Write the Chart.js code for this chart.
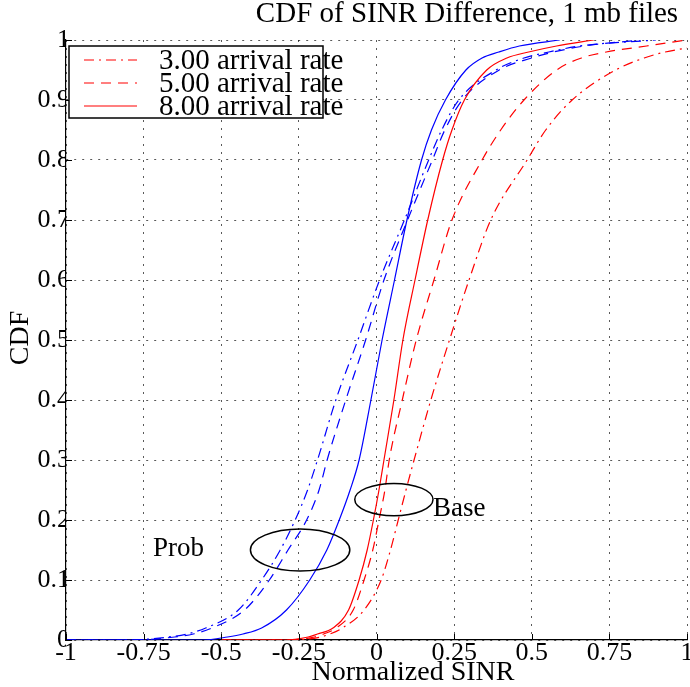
<!DOCTYPE html>
<html>
<head>
<meta charset="utf-8">
<title>CDF of SINR Difference</title>
<script src="https://cdn.jsdelivr.net/npm/chart.js@4.4.1/dist/chart.umd.min.js"></script>
<style>
  html, body { margin: 0; padding: 0; background: #fff; }
  #wrap { width: 690px; height: 687px; }
</style>
</head>
<body>
<div id="wrap"><canvas id="sinrChart" width="690" height="687"></canvas></div>
<script>
// CDF levels shared by all curves (first two rows: start of the flat part, point where it leaves zero)
const cdfLevels = [0, 0, 0.005, 0.01, 0.02, 0.05, 0.1, 0.15, 0.2, 0.25, 0.3, 0.4, 0.5, 0.6, 0.7, 0.8, 0.85, 0.9, 0.95, 0.97, 0.98, 0.99, 1];

// normalized SINR at each level, Prob scheme
const prob300 = [-1, -0.8, -0.67, -0.61, -0.55, -0.445, -0.37, -0.31, -0.262, -0.222, -0.19, -0.131, -0.06, 0.01, 0.09, 0.168, 0.21, 0.265, 0.385, 0.475, 0.555, 0.655, 0.9];
const prob500 = [-1, -0.78, -0.65, -0.59, -0.53, -0.425, -0.345, -0.285, -0.225, -0.185, -0.159, -0.099, -0.035, 0.024, 0.1, 0.18, 0.22, 0.276, 0.395, 0.5, 0.57, 0.67, 0.85];
const prob800 = [-1, -0.56, -0.48, -0.43, -0.37, -0.29, -0.215, -0.16, -0.12, -0.085, -0.056, -0.018, 0.018, 0.058, 0.098, 0.145, 0.177, 0.222, 0.288, 0.34, 0.394, 0.46, 0.59];

// normalized SINR at each level, Base scheme
const base300 = [-0.5, -0.27, -0.18, -0.15, -0.11, -0.04, 0.015, 0.045, 0.07, 0.095, 0.121, 0.175, 0.235, 0.298, 0.368, 0.485, 0.545, 0.63, 0.77, 0.862, 0.93, 1.04, 1.15];
const base500 = [-0.5, -0.28, -0.2, -0.17, -0.13, -0.075, -0.04, -0.012, 0.008, 0.027, 0.041, 0.083, 0.128, 0.185, 0.243, 0.34, 0.4, 0.475, 0.58, 0.66, 0.74, 0.87, 1.0];
const base800 = [-0.5, -0.3, -0.22, -0.19, -0.14, -0.09, -0.056, -0.03, -0.01, 0.008, 0.024, 0.056, 0.085, 0.124, 0.165, 0.213, 0.243, 0.283, 0.355, 0.42, 0.49, 0.58, 0.7];

const rateLabels = ['3.00 arrival rate', '5.00 arrival rate', '8.00 arrival rate'];
const xTicks = [-1, -0.75, -0.5, -0.25, 0, 0.25, 0.5, 0.75, 1];
const yTicks = [0, 0.1, 0.2, 0.3, 0.4, 0.5, 0.6, 0.7, 0.8, 0.9, 1];

const FONT = '"Liberation Serif", "Times New Roman", serif';
const dashStyles = [[10, 5, 2, 5], [10, 7], []];

function curve(xs) {
  return cdfLevels.map(function (p, i) { return { x: xs[i], y: p }; });
}

function makeSet(label, xs, color, dash, order) {
  return {
    label: label,
    data: curve(xs),
    borderColor: color,
    borderWidth: 1.2,
    borderDash: dash,
    pointRadius: 0,
    fill: false,
    cubicInterpolationMode: 'monotone',
    order: order
  };
}

// ellipses grouping the two families, in data units
const groupMarks = [
  { text: 'Prob', cx: -0.246, cy: 0.15, rx: 0.16, ry: 0.035, tx: -0.72, ty: 0.152 },
  { text: 'Base', cx: 0.056, cy: 0.234, rx: 0.126, ry: 0.027, tx: 0.182, ty: 0.218 }
];

const decorations = {
  id: 'decorations',
  afterDatasetsDraw: function (chart) {
    const ctx = chart.ctx, xs = chart.scales.x, ys = chart.scales.y, area = chart.chartArea;
    ctx.save();

    // inward tick marks
    ctx.strokeStyle = '#000';
    ctx.lineWidth = 1;
    ctx.beginPath();
    xTicks.forEach(function (v) {
      const px = Math.round(xs.getPixelForValue(v)) + 0.5;
      ctx.moveTo(px, area.bottom);
      ctx.lineTo(px, area.bottom - 6);
    });
    yTicks.forEach(function (v) {
      const py = Math.round(ys.getPixelForValue(v)) + 0.5;
      ctx.moveTo(area.left, py);
      ctx.lineTo(area.left + 6, py);
    });
    ctx.stroke();

    // Prob / Base ellipses and their labels
    ctx.lineWidth = 1.5;
    ctx.font = '27px ' + FONT;
    ctx.fillStyle = '#000';
    ctx.textBaseline = 'middle';
    ctx.textAlign = 'left';
    groupMarks.forEach(function (g) {
      const cx = xs.getPixelForValue(g.cx), cy = ys.getPixelForValue(g.cy);
      const rx = Math.abs(xs.getPixelForValue(g.cx + g.rx) - cx);
      const ry = Math.abs(ys.getPixelForValue(g.cy + g.ry) - cy);
      ctx.beginPath();
      ctx.ellipse(cx, cy, rx, ry, 0, 0, Math.PI * 2);
      ctx.stroke();
      ctx.fillText(g.text, xs.getPixelForValue(g.tx), ys.getPixelForValue(g.ty));
    });
    ctx.restore();
  },
  afterDraw: function (chart) {
    const ctx = chart.ctx, area = chart.chartArea;
    ctx.save();
    ctx.fillStyle = '#000';

    // title
    ctx.font = '29px ' + FONT;
    ctx.textAlign = 'center';
    ctx.textBaseline = 'alphabetic';
    ctx.fillText('CDF of SINR Difference, 1 mb files', 467, 22);

    // axis titles
    ctx.font = '28px ' + FONT;
    ctx.fillText('Normalized SINR', 413, 680);
    ctx.translate(28, 338);
    ctx.rotate(-Math.PI / 2);
    ctx.fillText('CDF', 0, 0);
    ctx.setTransform(1, 0, 0, 1, 0, 0);

    // legend (Base curves only)
    const bx = area.left + 3, by = area.top + 6;
    ctx.fillStyle = '#fff';
    ctx.fillRect(bx, by, 254, 72);
    ctx.strokeStyle = '#000';
    ctx.lineWidth = 1.5;
    ctx.strokeRect(bx, by, 254, 72);
    ctx.font = '29px ' + FONT;
    ctx.textAlign = 'left';
    ctx.textBaseline = 'middle';
    ctx.fillStyle = '#000';
    chart.data.datasets.filter(function (d) { return d.borderColor === '#ff0000'; }).forEach(function (d, i) {
      const rowY = by + 14 + i * 23;
      ctx.beginPath();
      ctx.setLineDash(d.borderDash);
      ctx.strokeStyle = d.borderColor;
      ctx.lineWidth = 1.2;
      ctx.moveTo(bx + 15, rowY);
      ctx.lineTo(bx + 68, rowY);
      ctx.stroke();
      ctx.setLineDash([]);
      ctx.fillText(d.label, bx + 90, rowY + 1);
    });
    ctx.restore();
  }
};

document.addEventListener('DOMContentLoaded', function () {
  const ctx = document.getElementById('sinrChart').getContext('2d');
  const sinrChart = new Chart(ctx, {
    type: 'line',
    data: {
      datasets: [
        makeSet('Prob ' + rateLabels[0], prob300, '#0000ff', dashStyles[0], 6),
        makeSet('Prob ' + rateLabels[1], prob500, '#0000ff', dashStyles[1], 5),
        makeSet('Prob ' + rateLabels[2], prob800, '#0000ff', dashStyles[2], 4),
        makeSet(rateLabels[0], base300, '#ff0000', dashStyles[0], 3),
        makeSet(rateLabels[1], base500, '#ff0000', dashStyles[1], 2),
        makeSet(rateLabels[2], base800, '#ff0000', dashStyles[2], 1)
      ]
    },
    options: {
      responsive: false,
      animation: false,
      layout: { padding: { top: 40, right: 3, bottom: 0, left: 0 } },
      plugins: {
        legend: { display: false },
        tooltip: { enabled: false }
      },
      scales: {
        x: {
          type: 'linear',
          min: -1,
          max: 1,
          afterBuildTicks: function (scale) {
            scale.ticks = xTicks.map(function (v) { return { value: v }; });
          },
          afterFit: function (scale) {
            scale.height = 47;
            scale.paddingLeft = 0;
            scale.paddingRight = 0;
          },
          grid: {
            color: 'rgba(0,0,0,0.65)',
            lineWidth: 1,
            drawTicks: false
          },
          border: { display: true, color: '#000', width: 1.2, dash: [2, 6] },
          ticks: {
            color: '#000',
            padding: -2,
            maxRotation: 0,
            autoSkip: false,
            font: { family: FONT, size: 26 },
            callback: function (v) { return String(v); }
          }
        },
        y: {
          type: 'linear',
          min: 0,
          max: 1,
          afterBuildTicks: function (scale) {
            scale.ticks = yTicks.map(function (v) { return { value: v }; });
          },
          afterFit: function (scale) {
            scale.width = 66;
            scale.paddingTop = 0;
            scale.paddingBottom = 0;
          },
          grid: {
            color: 'rgba(0,0,0,0.65)',
            lineWidth: 1,
            drawTicks: false
          },
          border: { display: true, color: '#000', width: 1.2, dash: [2, 6] },
          ticks: {
            color: '#000',
            padding: -4,
            autoSkip: false,
            font: { family: FONT, size: 26 },
            callback: function (v) { return String(v); }
          }
        }
      }
    },
    plugins: [decorations]
  });
});
</script>
</body>
</html>
